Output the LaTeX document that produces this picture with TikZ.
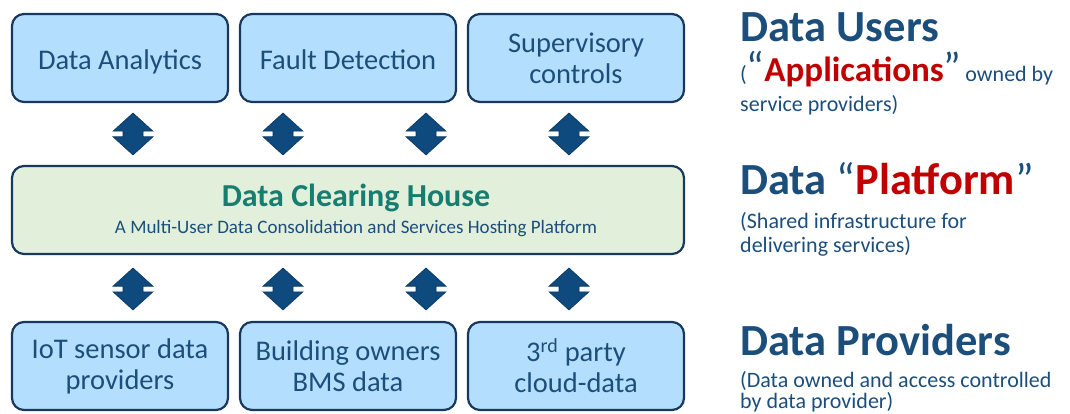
\documentclass[tikz,border=0pt]{standalone}
\usepackage{fontspec}
\setmainfont{Carlito}

\definecolor{boxfill}{RGB}{180,222,253}
\definecolor{boxline}{RGB}{24,56,94}
\definecolor{navy}{RGB}{28,78,124}
\definecolor{hubfill}{RGB}{226,239,218}
\definecolor{hubtitle}{RGB}{22,126,112}
\definecolor{arrowfill}{RGB}{14,74,126}
\definecolor{arrowline}{RGB}{8,52,92}
\definecolor{accentred}{RGB}{192,0,0}

\tikzset{
  layerbox/.style={draw=boxline, line width=2.2pt, fill=boxfill,
    rounded corners=12pt, minimum width=216pt, minimum height=88pt,
    inner sep=0pt, text=navy, align=center,
    font=\fontsize{28.5}{31}\selectfont},
  oneline/.style={text height=23pt, text depth=0pt},
  hubbox/.style={draw=boxline, line width=2.2pt, fill=hubfill,
    rounded corners=12pt, minimum width=672pt, minimum height=88pt,
    inner sep=0pt},
  sidehead/.style={anchor=base west, inner sep=0pt, text=navy,
    font=\fontsize{44.5}{44}\selectfont\bfseries},
  sidenote/.style={anchor=base west, inner sep=0pt, text=navy,
    font=\fontsize{22}{26}\selectfont},
  updown/.pic={
    \filldraw[fill=arrowfill, draw=arrowline, line width=0.6pt]
      (0,-21) -- (20,-2.8) -- (10,-2.8) -- (10,2.8) -- (20,2.8)
      -- (0,21) -- (-20,2.8) -- (-10,2.8) -- (-10,-2.8) -- (-20,-2.8)
      -- cycle;
  }
}

\begin{document}
\begin{tikzpicture}[x=1pt, y=-1pt]
\useasboundingbox (0,0) rectangle (1070,414);

% service layer
\node[layerbox, oneline] (analytics) at (120,58) {Data Analytics};
\node[layerbox, oneline] (fault)     at (348,58) {Fault Detection};
\node[layerbox] (control)   at (576,58) {Supervisory\\controls};

% shared platform
\node[hubbox] (hub) at (348,210) {};
\node[anchor=base, inner sep=0pt, text=hubtitle,
      font=\fontsize{32}{32}\selectfont\bfseries] (hubname) at (356,206)
      {Data Clearing House};
\node[anchor=base, inner sep=0pt, text=navy,
      font=\fontsize{19}{19}\selectfont] (hubsub) at (356,233)
      {A Multi-User Data Consolidation and Services Hosting Platform};

% data sources
\node[layerbox] (iot)   at (120,366) {IoT sensor data\\providers};
\node[layerbox] (bms)   at (348,366) {Building owners\\BMS data};
\node[layerbox] (cloud) at (576,366) {3\textsuperscript{rd} party\\cloud-data};

% two-way links between the layers
\foreach \x [count=\i] in {133,283,426,569} {
  \coordinate (up\i) at (\x,134);
  \coordinate (dn\i) at (\x,289);
  \path (up\i) pic {updown};
  \path (dn\i) pic {updown};
}

% layer captions
\node[sidehead] (usersT) at (740,42) {Data Users};
\node[sidenote] (usersA) at (740,82)
  {(\textcolor{navy}{\fontsize{42}{42}\selectfont “}{\fontsize{35}{36}\selectfont\bfseries\textcolor{accentred}{Applications}}{\fontsize{42}{42}\selectfont ”}\hspace{4pt}owned by};
\node[sidenote] (usersB) at (740,112) {service providers)};

\node[sidehead] (platT) at (740,195)
  {Data \mdseries“\bfseries\textcolor{accentred}{Platform}\mdseries”};
\node[sidenote] (platA) at (740,228) {(Shared infrastructure for};
\node[sidenote] (platB) at (740,252) {delivering services)};

\node[sidehead] (provT) at (740,355) {Data Providers};
\node[sidenote] (provA) at (740,387) {(Data owned and access controlled};
\node[sidenote] (provB) at (740,408) {by data provider)};
\end{tikzpicture}
\end{document}
